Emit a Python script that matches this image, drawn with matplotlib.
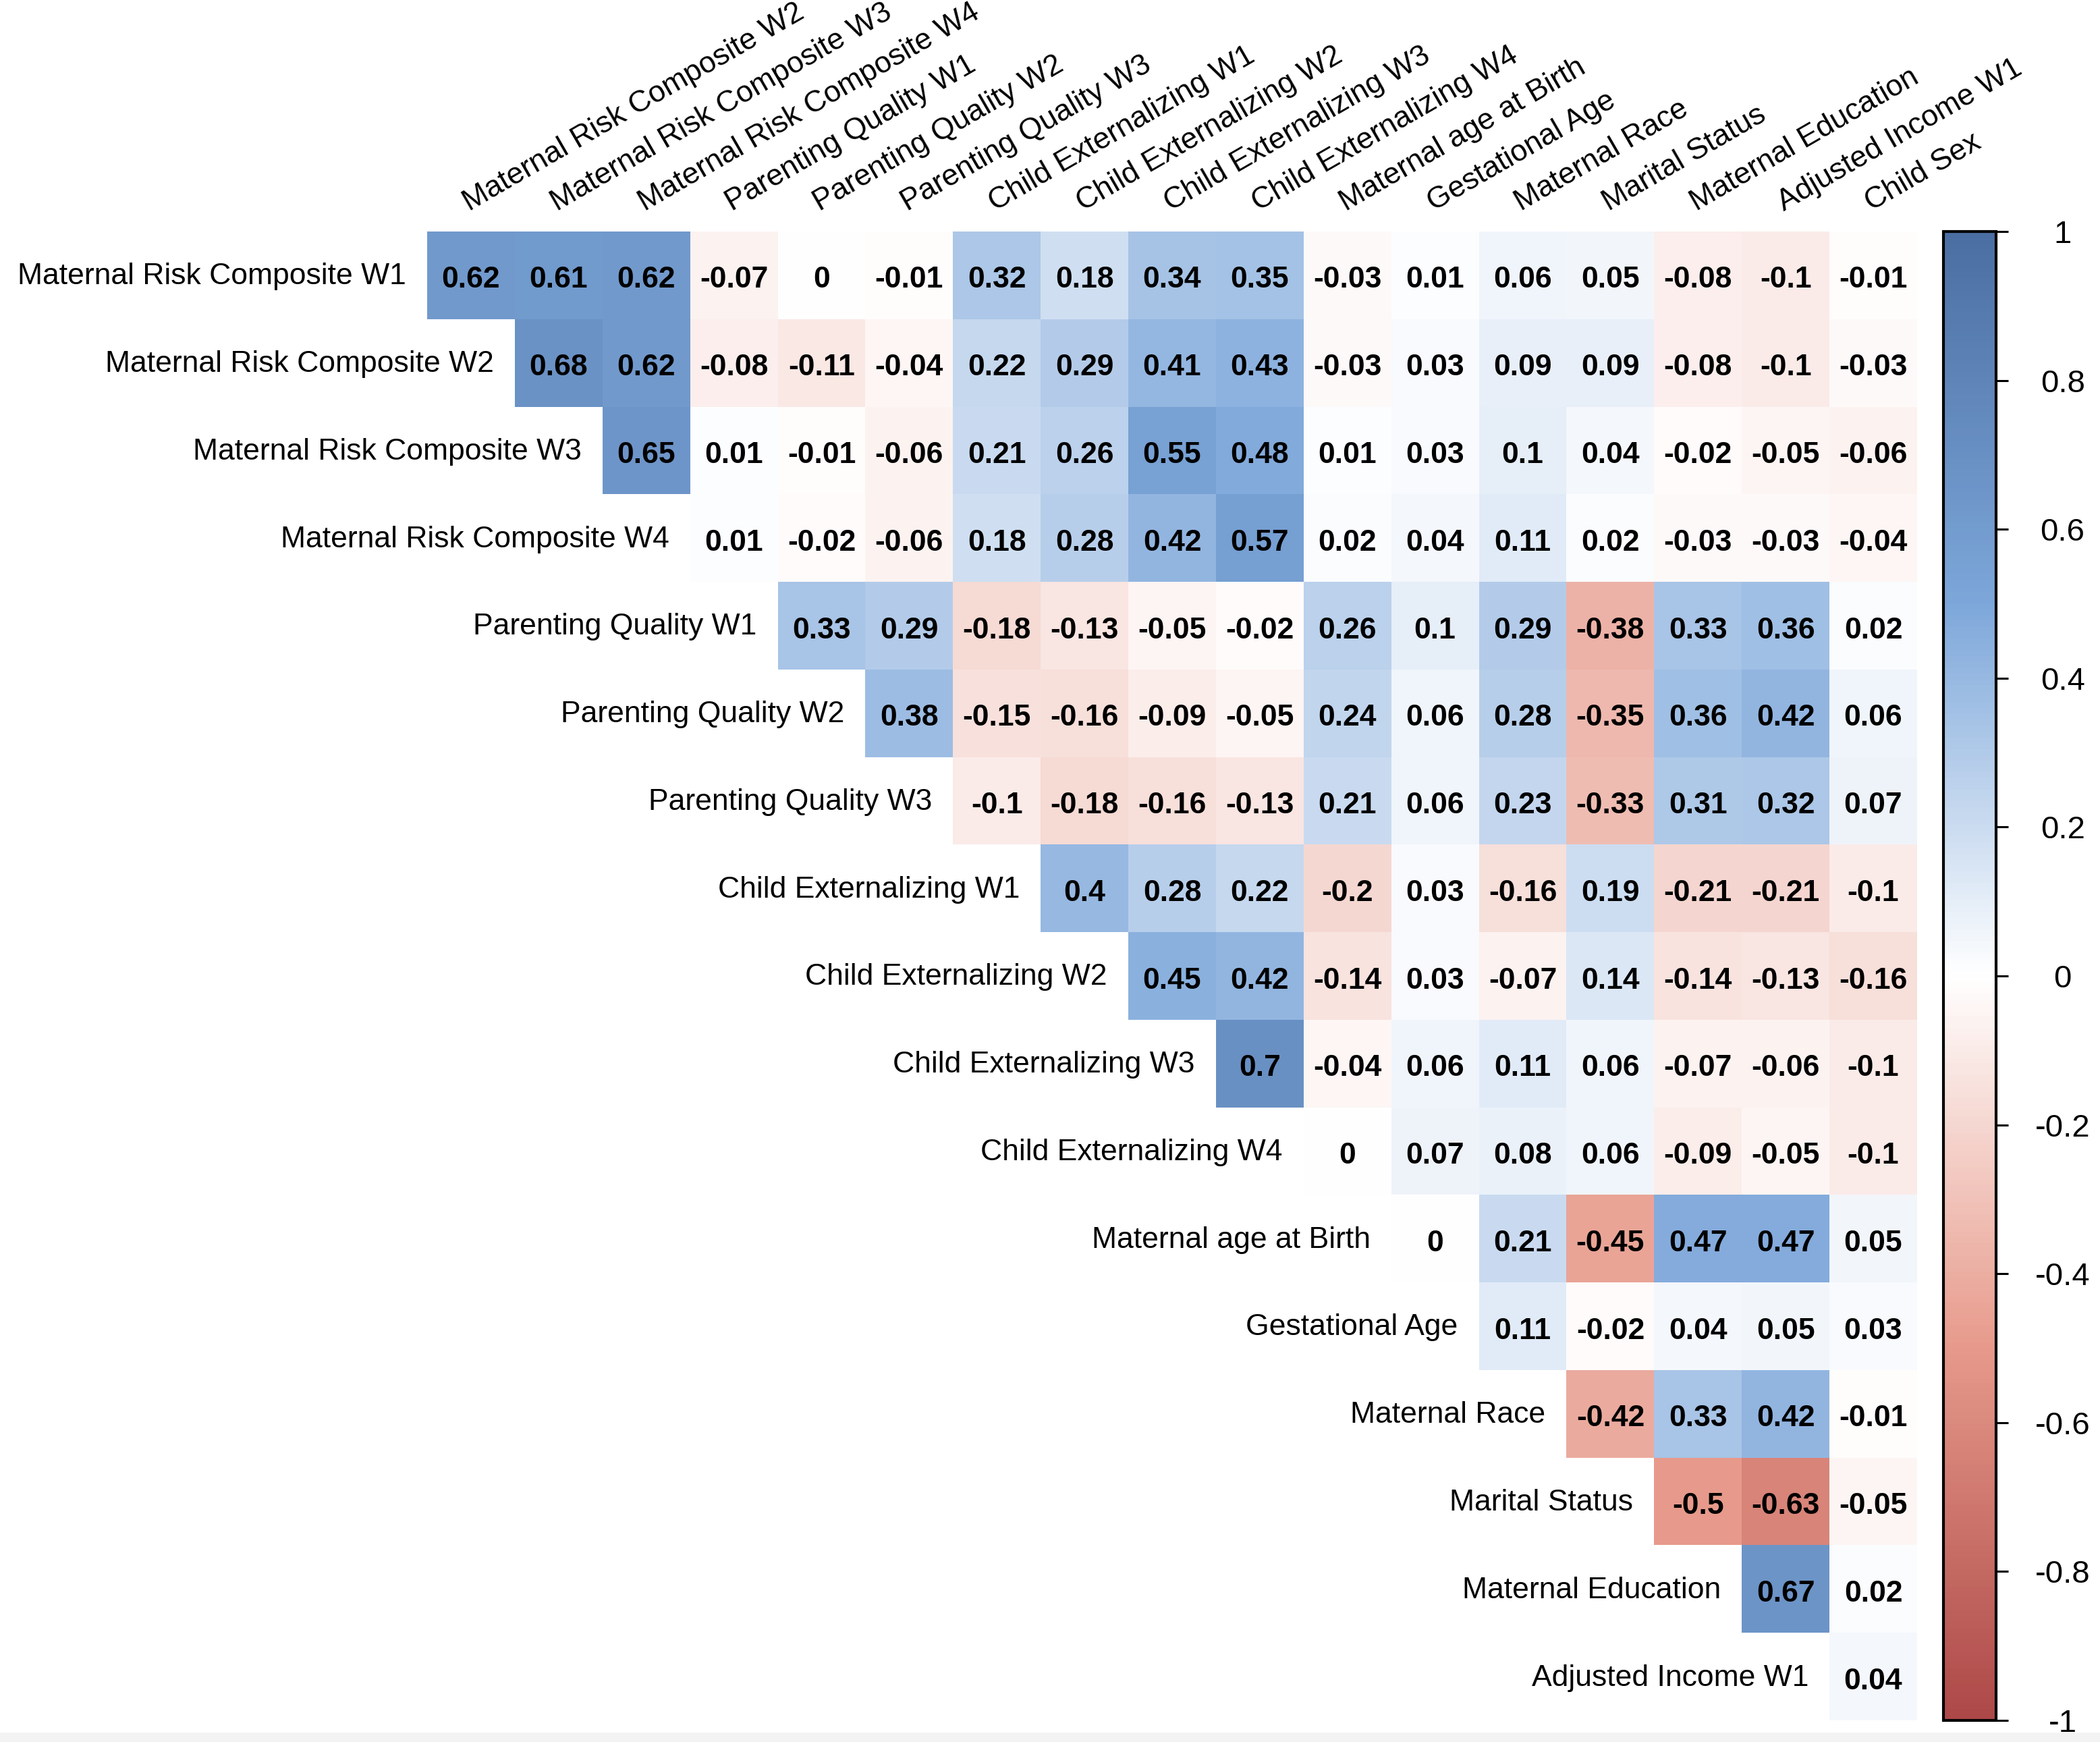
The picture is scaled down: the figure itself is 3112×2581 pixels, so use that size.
import numpy as np
import matplotlib
matplotlib.use("Agg")
import matplotlib.pyplot as plt
from matplotlib.colors import LinearSegmentedColormap, Normalize
from matplotlib.cm import ScalarMappable
from matplotlib.patches import Rectangle

plt.rcParams['font.family'] = ['Liberation Sans', 'DejaVu Sans']

row_labels = [
    "Maternal Risk Composite W1", "Maternal Risk Composite W2", "Maternal Risk Composite W3",
    "Maternal Risk Composite W4", "Parenting Quality W1", "Parenting Quality W2",
    "Parenting Quality W3", "Child Externalizing W1", "Child Externalizing W2",
    "Child Externalizing W3", "Child Externalizing W4", "Maternal age at Birth",
    "Gestational Age", "Maternal Race", "Marital Status", "Maternal Education",
    "Adjusted Income W1",
]
col_labels = [
    "Maternal Risk Composite W2", "Maternal Risk Composite W3", "Maternal Risk Composite W4",
    "Parenting Quality W1", "Parenting Quality W2", "Parenting Quality W3",
    "Child Externalizing W1", "Child Externalizing W2", "Child Externalizing W3",
    "Child Externalizing W4", "Maternal age at Birth", "Gestational Age", "Maternal Race",
    "Marital Status", "Maternal Education", "Adjusted Income W1", "Child Sex",
]

# each row starts on the diagonal
row_values = [
    [0.62, 0.61, 0.62, -0.07, 0, -0.01, 0.32, 0.18, 0.34, 0.35, -0.03, 0.01, 0.06, 0.05, -0.08, -0.1, -0.01],
    [0.68, 0.62, -0.08, -0.11, -0.04, 0.22, 0.29, 0.41, 0.43, -0.03, 0.03, 0.09, 0.09, -0.08, -0.1, -0.03],
    [0.65, 0.01, -0.01, -0.06, 0.21, 0.26, 0.55, 0.48, 0.01, 0.03, 0.1, 0.04, -0.02, -0.05, -0.06],
    [0.01, -0.02, -0.06, 0.18, 0.28, 0.42, 0.57, 0.02, 0.04, 0.11, 0.02, -0.03, -0.03, -0.04],
    [0.33, 0.29, -0.18, -0.13, -0.05, -0.02, 0.26, 0.1, 0.29, -0.38, 0.33, 0.36, 0.02],
    [0.38, -0.15, -0.16, -0.09, -0.05, 0.24, 0.06, 0.28, -0.35, 0.36, 0.42, 0.06],
    [-0.1, -0.18, -0.16, -0.13, 0.21, 0.06, 0.23, -0.33, 0.31, 0.32, 0.07],
    [0.4, 0.28, 0.22, -0.2, 0.03, -0.16, 0.19, -0.21, -0.21, -0.1],
    [0.45, 0.42, -0.14, 0.03, -0.07, 0.14, -0.14, -0.13, -0.16],
    [0.7, -0.04, 0.06, 0.11, 0.06, -0.07, -0.06, -0.1],
    [0, 0.07, 0.08, 0.06, -0.09, -0.05, -0.1],
    [0, 0.21, -0.45, 0.47, 0.47, 0.05],
    [0.11, -0.02, 0.04, 0.05, 0.03],
    [-0.42, 0.33, 0.42, -0.01],
    [-0.5, -0.63, -0.05],
    [0.67, 0.02],
    [0.04],
]

cbar_ticks = [1, 0.8, 0.6, 0.4, 0.2, 0, -0.2, -0.4, -0.6, -0.8, -1]

n = len(row_labels)
mat = np.full((n, n), np.nan)
for i, vals in enumerate(row_values):
    mat[i, i:i + len(vals)] = vals
mat = np.ma.masked_invalid(mat)

cmap = LinearSegmentedColormap.from_list(
    "corr", ["#AD4848", "#E79A8B", "#FFFFFF", "#7DA7DA", "#4B6EA2"])
norm = Normalize(vmin=-1, vmax=1)

W, H = 3112, 2581
fig = plt.figure(figsize=(W / 200, H / 200), dpi=200)
fig.patches.append(Rectangle((0, 0), 1, 14 / H, transform=fig.transFigure,
                             facecolor="#F3F3F3", edgecolor="none", zorder=0))

bottom = 1 - 2549 / H
height = 2206 / H
ax = fig.add_axes([633 / W, bottom, 2208 / W, height])
edges = np.arange(n + 1) - 0.5
ax.pcolormesh(edges, edges, mat, cmap=cmap, norm=norm, edgecolors="none")
ax.set_xlim(-0.5, n - 0.5)
ax.set_ylim(n - 0.5, -0.5)
ax.axis("off")

for i in range(n):
    for j in range(i, n):
        ax.text(j, i + 0.02, f"{mat[i, j]:g}", ha="center", va="center_baseline",
                fontsize=16, fontweight="bold", color="black")
    ax.text(i - 0.74, i - 0.02, row_labels[i], ha="right", va="center_baseline",
            fontsize=16, color="black")

for j, lab in enumerate(col_labels):
    ax.text(j - 0.02, -0.73, lab, rotation=30, rotation_mode="anchor",
            ha="left", va="baseline", fontsize=16, color="black")

cax = fig.add_axes([2880 / W, bottom, 78 / W, height])
cb = fig.colorbar(ScalarMappable(norm=norm, cmap=cmap), cax=cax)
cb.outline.set_linewidth(1.5)
cb.outline.set_edgecolor("black")
cb.set_ticks(cbar_ticks)
cb.set_ticklabels([f"{t:g}" for t in cbar_ticks])
cax.tick_params(axis="y", length=6.5, width=1.1, pad=29, labelsize=17)
for t in cax.get_yticklabels():
    t.set_horizontalalignment("center")

fig.savefig("out.png", dpi=200, facecolor="white")
